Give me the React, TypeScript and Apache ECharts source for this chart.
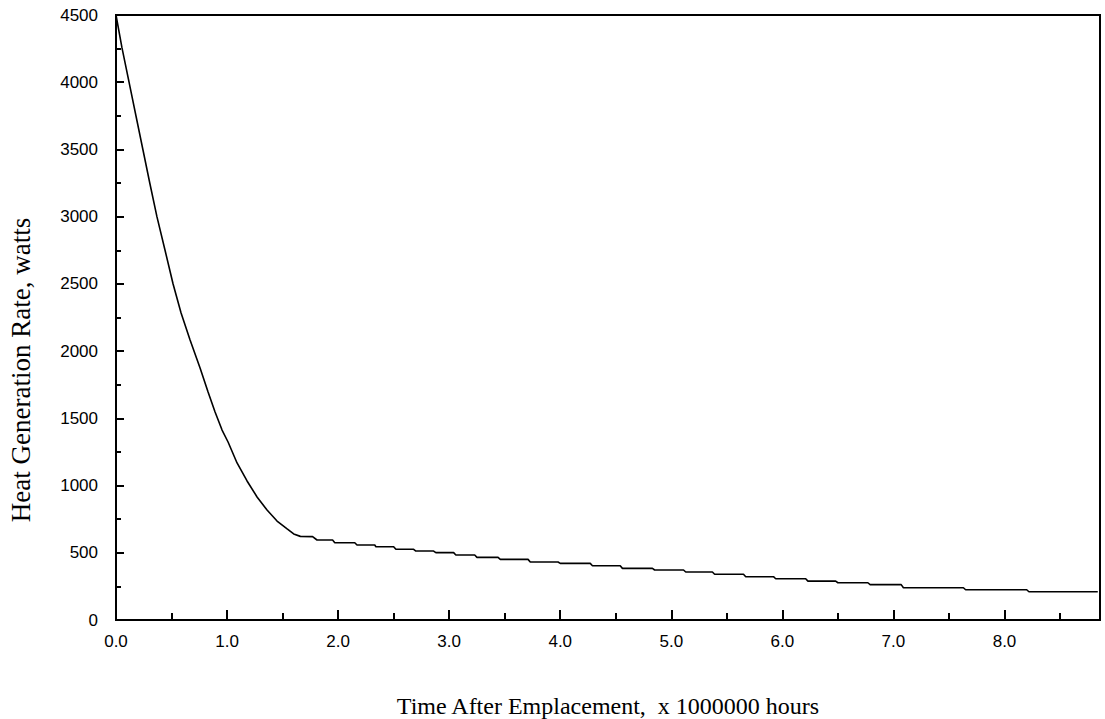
import React, { useEffect, useRef } from "react";
import * as echarts from "echarts";

// Time after emplacement (x 1,000,000 hours)
const timeValues: number[] = [
  0, 0.054, 0.117, 0.18, 0.243, 0.306, 0.369, 0.441, 0.514, 0.586, 0.667, 0.757,
  0.829, 0.892, 0.955, 1.009, 1.09, 1.18, 1.27, 1.36, 1.45, 1.541, 1.6, 1.66,
  1.77, 1.81, 1.95, 1.97, 2.15, 2.17, 2.33, 2.34, 2.5, 2.52, 2.68, 2.7, 2.86,
  2.88, 3.04, 3.06, 3.23, 3.25, 3.44, 3.46, 3.71, 3.73, 3.98, 4.0, 4.27, 4.29,
  4.54, 4.56, 4.83, 4.85, 5.11, 5.13, 5.37, 5.39, 5.65, 5.67, 5.92, 5.94, 6.21,
  6.23, 6.48, 6.5, 6.77, 6.79, 7.07, 7.09, 7.63, 7.65, 8.2, 8.22, 8.84,
];

// Heat generation rate (watts)
const heatValues: number[] = [
  4500, 4255, 4002, 3749, 3496, 3243, 2998, 2752, 2499, 2283, 2083, 1874,
  1696, 1547, 1413, 1324, 1168, 1034, 915, 818, 736, 677, 640, 622,
  620, 595, 595, 575, 575, 558, 558, 545, 545, 526, 526, 513, 513,
  501, 501, 483, 483, 466, 466, 451, 451, 431, 431, 421, 421, 404,
  404, 384, 384, 372, 372, 357, 357, 340, 340, 322, 322, 307, 307,
  289, 289, 277, 277, 263, 263, 240, 240, 225, 225, 210, 210,
];

const xAxisMin = 0;
const xAxisMax = 8.86;
const xTickStep = 1;
const yAxisMin = 0;
const yAxisMax = 4500;
const yTickStep = 500;

const xTitle = "Time After Emplacement,  x 1000000 hours";
const yTitle = "Heat Generation Rate, watts";

export default function App() {
  const ref = useRef<HTMLDivElement>(null);

  useEffect(() => {
    if (!ref.current) return;
    const chart = echarts.init(ref.current, undefined, { renderer: "svg" });
    const data = timeValues.map((t, i) => [t, heatValues[i]]);
    const labelFont = "Liberation Sans, Arial, sans-serif";
    const serif = "Liberation Serif, Times New Roman, serif";
    chart.setOption({
      animation: false,
      backgroundColor: "#ffffff",
      grid: {
        left: 116,
        right: 5,
        top: 15,
        bottom: 99,
        outerBoundsMode: "none",
        containLabel: false,
        show: true,
        borderColor: "#000",
        borderWidth: 2,
        backgroundColor: "transparent",
      },
      xAxis: {
        type: "value",
        min: xAxisMin,
        max: xAxisMax,
        interval: xTickStep,
        name: xTitle,
        nameLocation: "middle",
        nameGap: 74,
        nameTextStyle: { fontFamily: serif, fontSize: 24, lineHeight: 24, color: "#000" },
        axisLine: { show: true, lineStyle: { color: "#000", width: 2 } },
        axisTick: { show: true, inside: true, length: 10, lineStyle: { color: "#000", width: 2 } },
        minorTick: { show: true, splitNumber: 2, length: 7, lineStyle: { color: "#000", width: 2 } },
        splitLine: { show: false },
        axisLabel: {
          show: true,
          showMaxLabel: false,
          margin: 13,
          fontFamily: labelFont,
          fontSize: 17,
          color: "#000",
          formatter: (v: number) => v.toFixed(1),
        },
      },
      yAxis: {
        type: "value",
        min: yAxisMin,
        max: yAxisMax,
        interval: yTickStep,
        axisLine: { show: true, lineStyle: { color: "#000", width: 2 } },
        axisTick: { show: true, inside: true, length: 8, lineStyle: { color: "#000", width: 2 } },
        minorTick: { show: true, splitNumber: 2, length: 5, lineStyle: { color: "#000", width: 2 } },
        splitLine: { show: false },
        axisLabel: {
          show: true,
          margin: 18,
          fontFamily: labelFont,
          fontSize: 17,
          color: "#000",
          formatter: (v: number) => String(v),
        },
      },
      graphic: [
        {
          type: "text",
          x: 21,
          y: 370,
          rotation: Math.PI / 2,
          style: {
            text: yTitle,
            font: `27px ${serif}`,
            fill: "#000",
            align: "center",
            verticalAlign: "middle",
          },
        },
      ],
      series: [
        {
          type: "line",
          data,
          showSymbol: false,
          symbol: "none",
          lineStyle: { color: "#000", width: 1.6 },
        },
      ],
    });
    return () => chart.dispose();
  }, []);

  return (
    <div
      ref={ref}
      style={{ position: "fixed", left: 0, top: 0, width: 1105, height: 719, background: "#fff" }}
    />
  );
}
